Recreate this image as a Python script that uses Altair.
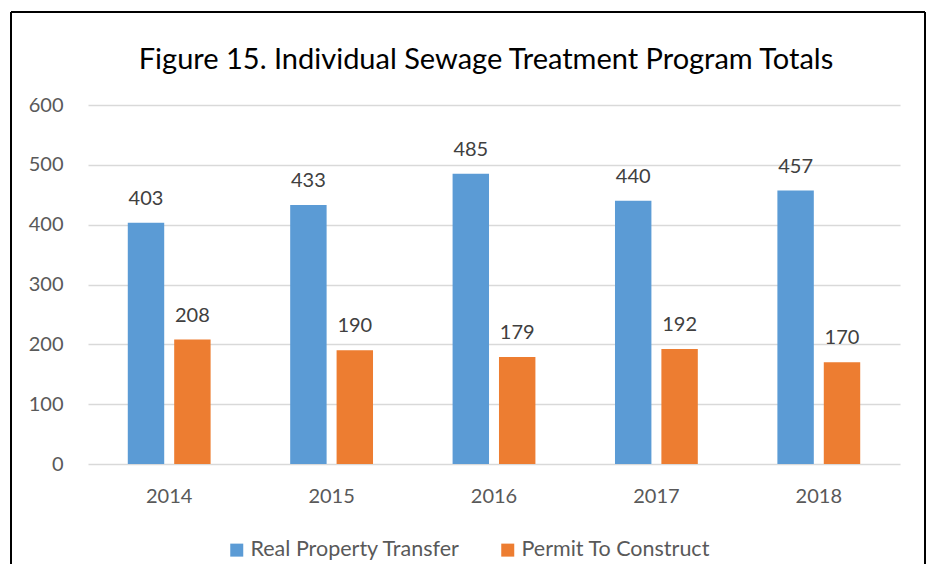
import altair as alt
import pandas as pd

years = ["2014", "2015", "2016", "2017", "2018"]
real_property_transfer = [403, 433, 485, 440, 457]
permit_to_construct = [208, 190, 179, 192, 170]
series_names = ["Real Property Transfer", "Permit To Construct"]
colors = ["#5b9bd5", "#ed7d31"]

rows = []
for i, y in enumerate(years):
    rows.append({"year": y, "series": series_names[0], "value": real_property_transfer[i]})
    rows.append({"year": y, "series": series_names[1], "value": permit_to_construct[i]})
df = pd.DataFrame(rows)

FONT = "Lato"

x_enc = alt.X("year:N", title=None, sort=years,
              scale=alt.Scale(paddingInner=0.49, paddingOuter=0.245),
              axis=alt.Axis(labelAngle=0, labelFontSize=20, labelColor="#595959",
                            labelPadding=22, ticks=False, domain=False, labelFont=FONT))
xoff = alt.XOffset("series:N", sort=series_names,
                   scale=alt.Scale(paddingInner=0.215, paddingOuter=0))
y_enc = alt.Y("value:Q", title=None,
              scale=alt.Scale(domain=[0, 600]),
              axis=alt.Axis(values=[0, 100, 200, 300, 400, 500, 600], labelFontSize=20,
                            labelColor="#595959", labelPadding=25, ticks=False,
                            domain=False, gridColor="#d9d9d9", gridWidth=1.5,
                            labelFont=FONT))

base = alt.Chart(df)

bars = base.mark_bar().encode(
    x=x_enc, xOffset=xoff, y=y_enc,
    color=alt.Color("series:N", sort=series_names,
                    scale=alt.Scale(domain=series_names, range=colors),
                    legend=alt.Legend(title=None, orient="none", direction="horizontal",
                                      legendX=138, legendY=434, symbolType="square",
                                      symbolSize=169, symbolStrokeWidth=0,
                                      labelFontSize=21.5, labelColor="#595959",
                                      labelFont=FONT, columnPadding=36, labelOffset=3,
                                      labelLimit=500)),
)

labels = base.mark_text(baseline="alphabetic", dy=-18, fontSize=20, color="#404040",
                        font=FONT).encode(
    x=alt.X("year:N", sort=years), xOffset=alt.XOffset("series:N", sort=series_names),
    y="value:Q", text="value:Q")

frame_left = alt.Chart(df).mark_rule(color="black", strokeWidth=1.5).encode(
    x=alt.value(-77), y=alt.value(-93), y2=alt.value(480))
frame_right = alt.Chart(df).mark_rule(color="black", strokeWidth=1.5).encode(
    x=alt.value(837), y=alt.value(-93), y2=alt.value(480))
frame_top = alt.Chart(df).mark_rule(color="black", strokeWidth=1.5).encode(
    x=alt.value(-77), x2=alt.value(837), y=alt.value(-93))

chart = alt.layer(bars, labels, frame_left, frame_right, frame_top).properties(
    width=812, height=359,
    background="white",
    title=alt.TitleParams("Figure 15. Individual Sewage Treatment Program Totals",
                          fontSize=29, font=FONT, fontWeight="normal", color="black",
                          anchor="middle", baseline="alphabetic", offset=-87, dx=-8),
    autosize=alt.AutoSizeParams(type="none"),
    padding={"left": 80, "top": 97, "right": 26, "bottom": 100},
).configure_view(strokeWidth=0, stroke="transparent")

chart.save("out.html", embed_options={"renderer": "svg", "actions": False})
